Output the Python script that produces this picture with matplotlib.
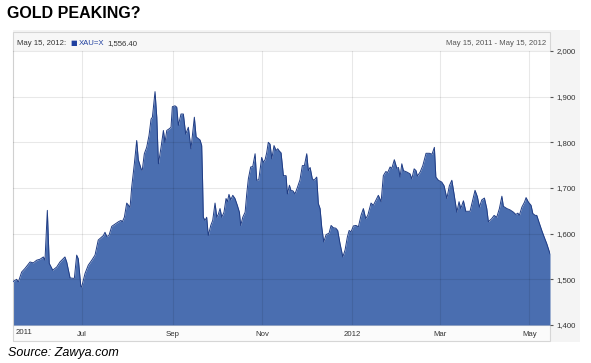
import matplotlib
matplotlib.use("Agg")
import matplotlib.pyplot as plt
from matplotlib.patches import Rectangle
import pandas as pd

# XAU=X daily close (days counted from May 15, 2011)
start_date = "2011-05-15"
days = [0, 2.5, 3.6, 5.9, 8.2, 11.6, 13.8, 16.2, 18.4, 20.7, 21.8, 23.4, 24.7, 27.1, 29.8,
        32.0, 35.4, 36.6, 38.9, 41.8, 43.4, 44.5, 46.2, 46.8, 49.1, 51.3, 53.7, 55.9, 58.1,
        61.6, 62.7, 63.9, 65.4, 67.3, 69.5, 71.8, 73.6, 74.5, 75.9, 77.5, 79.8, 80.9, 82.7,
        84.3, 85.4, 87.3, 88.1, 89.5, 91.1, 92.7, 94.1, 95.0, 96.8, 98.0, 99.1, 100.9, 102.5,
        103.6, 104.8, 106.6, 107.7, 108.6, 110.4, 111.6, 112.7, 114.5, 116.1, 117.7, 119.5,
        121.3, 123.6, 124.8, 127.5, 128.6, 129.2, 129.7, 130.9, 132.0, 133.1, 134.8, 136.1,
        137.7, 138.9, 140.0, 141.1, 142.3, 143.8, 145.2, 146.1, 147.2, 148.4, 149.8, 151.3,
        152.9, 154.3, 155.2, 156.6, 158.2, 159.3, 160.4, 162.0, 163.4, 165.0, 166.1, 167.5,
        169.5, 170.6, 171.8, 172.9, 174.0, 175.2, 176.4, 177.9, 179.3, 180.4, 181.5, 182.7,
        184.3, 186.1, 187.0, 188.4, 189.5, 190.7, 192.2, 193.8, 195.6, 197.2, 198.6, 200.2,
        201.3, 202.5, 204.0, 205.2, 207.0, 208.1, 209.3, 210.4, 211.8, 213.4, 215.4, 216.8,
        218.3, 220.0, 221.3, 222.9, 224.8, 226.3, 227.9, 229.1, 230.4, 232.0, 233.8, 235.4,
        237.2, 238.8, 240.4, 241.8, 244.0, 245.6, 247.9, 249.0, 250.9, 252.4, 254.1, 255.4,
        257.0, 258.2, 259.9, 261.6, 262.7, 263.8, 265.0, 266.1, 268.4, 270.6, 271.8, 273.4,
        274.7, 275.6, 277.5, 279.3, 281.5, 283.8, 285.6, 287.2, 288.2, 289.9, 292.2, 293.8,
        295.7, 297.4, 299.1, 300.6, 302.5, 304.0, 305.2, 307.0, 308.6, 311.5, 314.9, 316.5,
        317.9, 319.5, 321.3, 322.9, 324.0, 326.3, 327.9, 329.7, 331.5, 333.2, 334.2, 336.6,
        338.8, 341.1, 342.7, 344.1, 345.1, 346.8, 348.6, 349.7, 351.3, 353.1, 354.3, 355.9,
        357.0, 358.1, 360.4, 362.0, 363.8, 365.6, 366]
prices = [1495, 1500, 1494, 1516, 1524, 1538, 1536, 1542, 1544, 1549, 1542, 1651, 1535, 1520, 1527,
          1538, 1549, 1538, 1503, 1502, 1553, 1545, 1485, 1483, 1513, 1531, 1542, 1553, 1586,
          1596, 1603, 1594, 1596, 1616, 1621, 1626, 1629, 1626, 1636, 1667, 1658, 1702, 1753,
          1804, 1762, 1742, 1739, 1775, 1789, 1815, 1851, 1855, 1911, 1855, 1753, 1789, 1826,
          1800, 1826, 1830, 1833, 1878, 1880, 1877, 1837, 1862, 1862, 1818, 1833,
          1786, 1855, 1812, 1805, 1793, 1717, 1636, 1629, 1636, 1596, 1618, 1629,
          1667, 1636, 1643, 1655, 1636, 1647, 1677, 1670, 1686, 1674, 1684, 1677,
          1662, 1647, 1618, 1636, 1647, 1687, 1720, 1746, 1747, 1775, 1717, 1718,
          1767, 1756, 1762, 1777, 1800, 1796, 1764, 1793, 1782, 1786, 1781, 1777,
          1727, 1727, 1687, 1706, 1694, 1694, 1687, 1701, 1718, 1749, 1749, 1775,
          1738, 1745, 1720, 1717, 1724, 1666, 1655, 1615, 1582, 1598, 1601, 1618,
          1613, 1612, 1607, 1578, 1549, 1564, 1593, 1607, 1604, 1617, 1618, 1615,
          1640, 1655, 1633, 1640, 1667, 1662, 1677, 1684, 1670, 1727, 1736, 1734,
          1746, 1743, 1762, 1743, 1745, 1724, 1753, 1738, 1735, 1731, 1720, 1742,
          1738, 1726, 1735, 1749, 1776, 1776, 1774, 1789, 1724, 1717, 1713, 1705,
          1677, 1705, 1717, 1687, 1647, 1670, 1655, 1672, 1649, 1649, 1695, 1681,
          1658, 1674, 1678, 1655, 1626, 1633, 1640, 1636, 1655, 1682, 1660, 1655,
          1652, 1647, 1642, 1645, 1640, 1658, 1669, 1679, 1669, 1662, 1644, 1640,
          1640, 1629, 1607, 1593, 1578, 1560, 1556]

tick_dates = ["2011-07-01", "2011-09-01", "2011-11-01", "2012-01-01", "2012-03-01", "2012-05-01"]
tick_labels = ["Jul", "Sep", "Nov", "2012", "Mar", "May"]
y_ticks = [1400, 1500, 1600, 1700, 1800, 1900, 2000]

small = "Liberation Sans"
small_size = 5.6

dates = pd.Timestamp(start_date) + pd.to_timedelta(days, unit="D")
end_date = pd.Timestamp("2012-05-15")

W, H = 591, 363
fig = plt.figure(figsize=(W / 100, H / 100), dpi=100)

def fx(px):
    return px / W

def fy(py):
    return 1 - py / H

def box(x0, y0, x1, y1, **kw):
    fig.patches.append(Rectangle((fx(x0), fy(y1)), fx(x1) - fx(x0), fy(y0) - fy(y1),
                                 transform=fig.transFigure, **kw))

# widget background, header bar, x label strip (behind the axes)
box(13, 30, 580, 342, facecolor="#f4f4f4", edgecolor="none", zorder=-3)
box(13, 32, 550, 51, facecolor="#f7f7f7", edgecolor="#d6d6d6", lw=0.8, zorder=-2)
box(13, 325, 550, 341, facecolor="#fbfbfb", edgecolor="#d6d6d6", lw=0.8, zorder=-2)

ax = fig.add_axes([fx(13), fy(325), fx(537), fy(51) - fy(325)])
ax.set_zorder(1)
ax.set_facecolor("white")
ax.fill_between(dates, prices, 1400, color="#4a6eb0", lw=0, zorder=2)
ax.plot(dates, prices, color="#1f3c84", lw=0.7, zorder=3)

ax.set_xlim(pd.Timestamp(start_date), end_date)
ax.set_ylim(1400, 2000)

ax.set_xticks(pd.to_datetime(tick_dates))
ax.set_xticklabels(tick_labels, fontfamily=small, fontsize=small_size, color="#333333")
ax.tick_params(axis="x", length=0, pad=4)
ax.text(0.004, -0.015, "2011", transform=ax.transAxes, ha="left", va="top",
        fontfamily=small, fontsize=small_size, color="#333333")

ax.yaxis.tick_right()
ax.set_yticks(y_ticks)
ax.set_yticklabels([f"{v:,}" for v in y_ticks], fontfamily=small, fontsize=small_size,
                   color="#333333")
ax.tick_params(axis="y", direction="out", length=2.5, width=0.8, color="#555555", pad=2)

ax.grid(True, color="black", alpha=0.09, lw=0.8, zorder=4)
ax.set_axisbelow(False)
for side in ["top", "right", "bottom"]:
    ax.spines[side].set_visible(False)
ax.spines["left"].set_color("#d0d0d0")

# header texts, each placed just after the previous one on a shared baseline
base = fy(45)
t1 = fig.text(fx(17), base, "May 15, 2012:", fontfamily=small, fontsize=small_size,
              color="#333333", va="baseline")
ax.annotate("\u25A0", xy=(1, base), xycoords=(t1, "figure fraction"), xytext=(3, 0.3),
            textcoords="offset points", fontfamily="DejaVu Sans", fontsize=5,
            color="#1f3f9f", va="baseline", annotation_clip=False)
t3 = ax.annotate("XAU=X", xy=(1, base), xycoords=(t1, "figure fraction"), xytext=(9.5, 0),
                 textcoords="offset points", fontfamily=small, fontsize=small_size,
                 color="#1f3f9f", va="baseline", annotation_clip=False)
ax.annotate("1,556.40", xy=(1, base), xycoords=(t3, "figure fraction"), xytext=(1.5, 0),
            textcoords="offset points", fontfamily=small, fontsize=small_size,
            color="#333333", va="baseline", annotation_clip=False)
fig.text(fx(546), base, "May 15, 2011 - May 15, 2012", fontfamily=small,
         fontsize=small_size, color="#555555", va="baseline", ha="right")

fig.text(fx(7), fy(17.7), "GOLD PEAKING?", fontfamily="Liberation Sans",
         fontweight="bold", fontsize=11.5, color="black", va="baseline")
fig.text(fx(8), fy(356), "Source: Zawya.com", fontfamily="Liberation Sans",
         fontstyle="italic", fontsize=9, color="black", va="baseline")

fig.savefig("out.png", dpi=100)
